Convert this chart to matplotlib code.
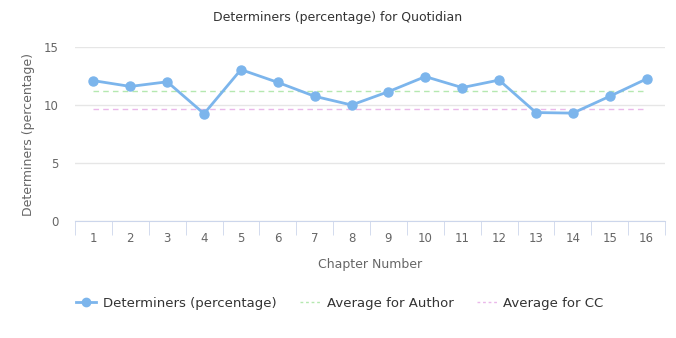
import matplotlib
matplotlib.use("Agg")
import matplotlib.pyplot as plt
from matplotlib.lines import Line2D

chapters = list(range(1, 17))
determiners = [12.1, 11.6, 12.0, 9.25, 13.05, 11.95, 10.75, 10.0, 11.15, 12.45, 11.5, 12.15, 9.35, 9.3, 10.75, 12.25]
avg_author = 11.2
avg_cc = 9.65
title = "Determiners (percentage) for Quotidian"
xlabel = "Chapter Number"
ylabel = "Determiners (percentage)"

plt.rcParams['font.family'] = ['DejaVu Sans']
fig = plt.figure(figsize=(6.76, 3.38), dpi=100)
ax = fig.add_axes([75/676, 1-221/338, 590/676, 174/338])

ax.set_xlim(0.5, 16.5)
ax.set_ylim(0, 15)
ax.set_yticks([0, 5, 10, 15])
ax.grid(axis='y', color='#e6e6e6', linewidth=1)
ax.set_axisbelow(True)

ax.plot([chapters[0], chapters[-1]], [avg_author]*2, color='#b5e8b0', lw=1, dashes=(4, 3), zorder=2)
ax.plot([chapters[0], chapters[-1]], [avg_cc]*2, color='#eab8ea', lw=1, dashes=(4, 3), zorder=2)
ax.plot(chapters, determiners, color='#7cb5ec', lw=2, marker='o', ms=6.5, zorder=3)

for s in ['top', 'right', 'left']:
    ax.spines[s].set_visible(False)
ax.spines['bottom'].set_color('#ccd6eb')
ax.set_xticks(chapters)
ax.set_xticks([c - 0.5 for c in chapters] + [16.5], minor=True)
ax.tick_params(axis='x', which='major', length=0, pad=8, labelsize=8.5, colors='#666666')
ax.tick_params(axis='x', which='minor', length=10, color='#ccd6eb')
ax.tick_params(axis='y', length=0, labelsize=8.5, colors='#666666', pad=12)

fig.text(0.5, 1-17/338, title, fontsize=9, color='#333333', ha='center', va='center')
ax.set_xlabel(xlabel, fontsize=9, color='#666666', labelpad=9)
ax.set_ylabel(ylabel, fontsize=9, color='#666666', labelpad=6)

handles = [
    Line2D([], [], color='#7cb5ec', lw=2, marker='o', ms=6),
    Line2D([], [], color='#b5e8b0', lw=1, dashes=(2, 2)),
    Line2D([], [], color='#eab8ea', lw=1, dashes=(2, 2)),
]
labels = ["Determiners (percentage)", "Average for Author", "Average for CC"]
leg = fig.legend(handles, labels, loc='center', bbox_to_anchor=(0.503, 1-303/338), ncol=3,
                 frameon=False, fontsize=9.5, handlelength=1.5, columnspacing=1.8, handletextpad=0.5)
for t in leg.get_texts():
    t.set_color('#333333')

fig.savefig("out.png", dpi=100)
